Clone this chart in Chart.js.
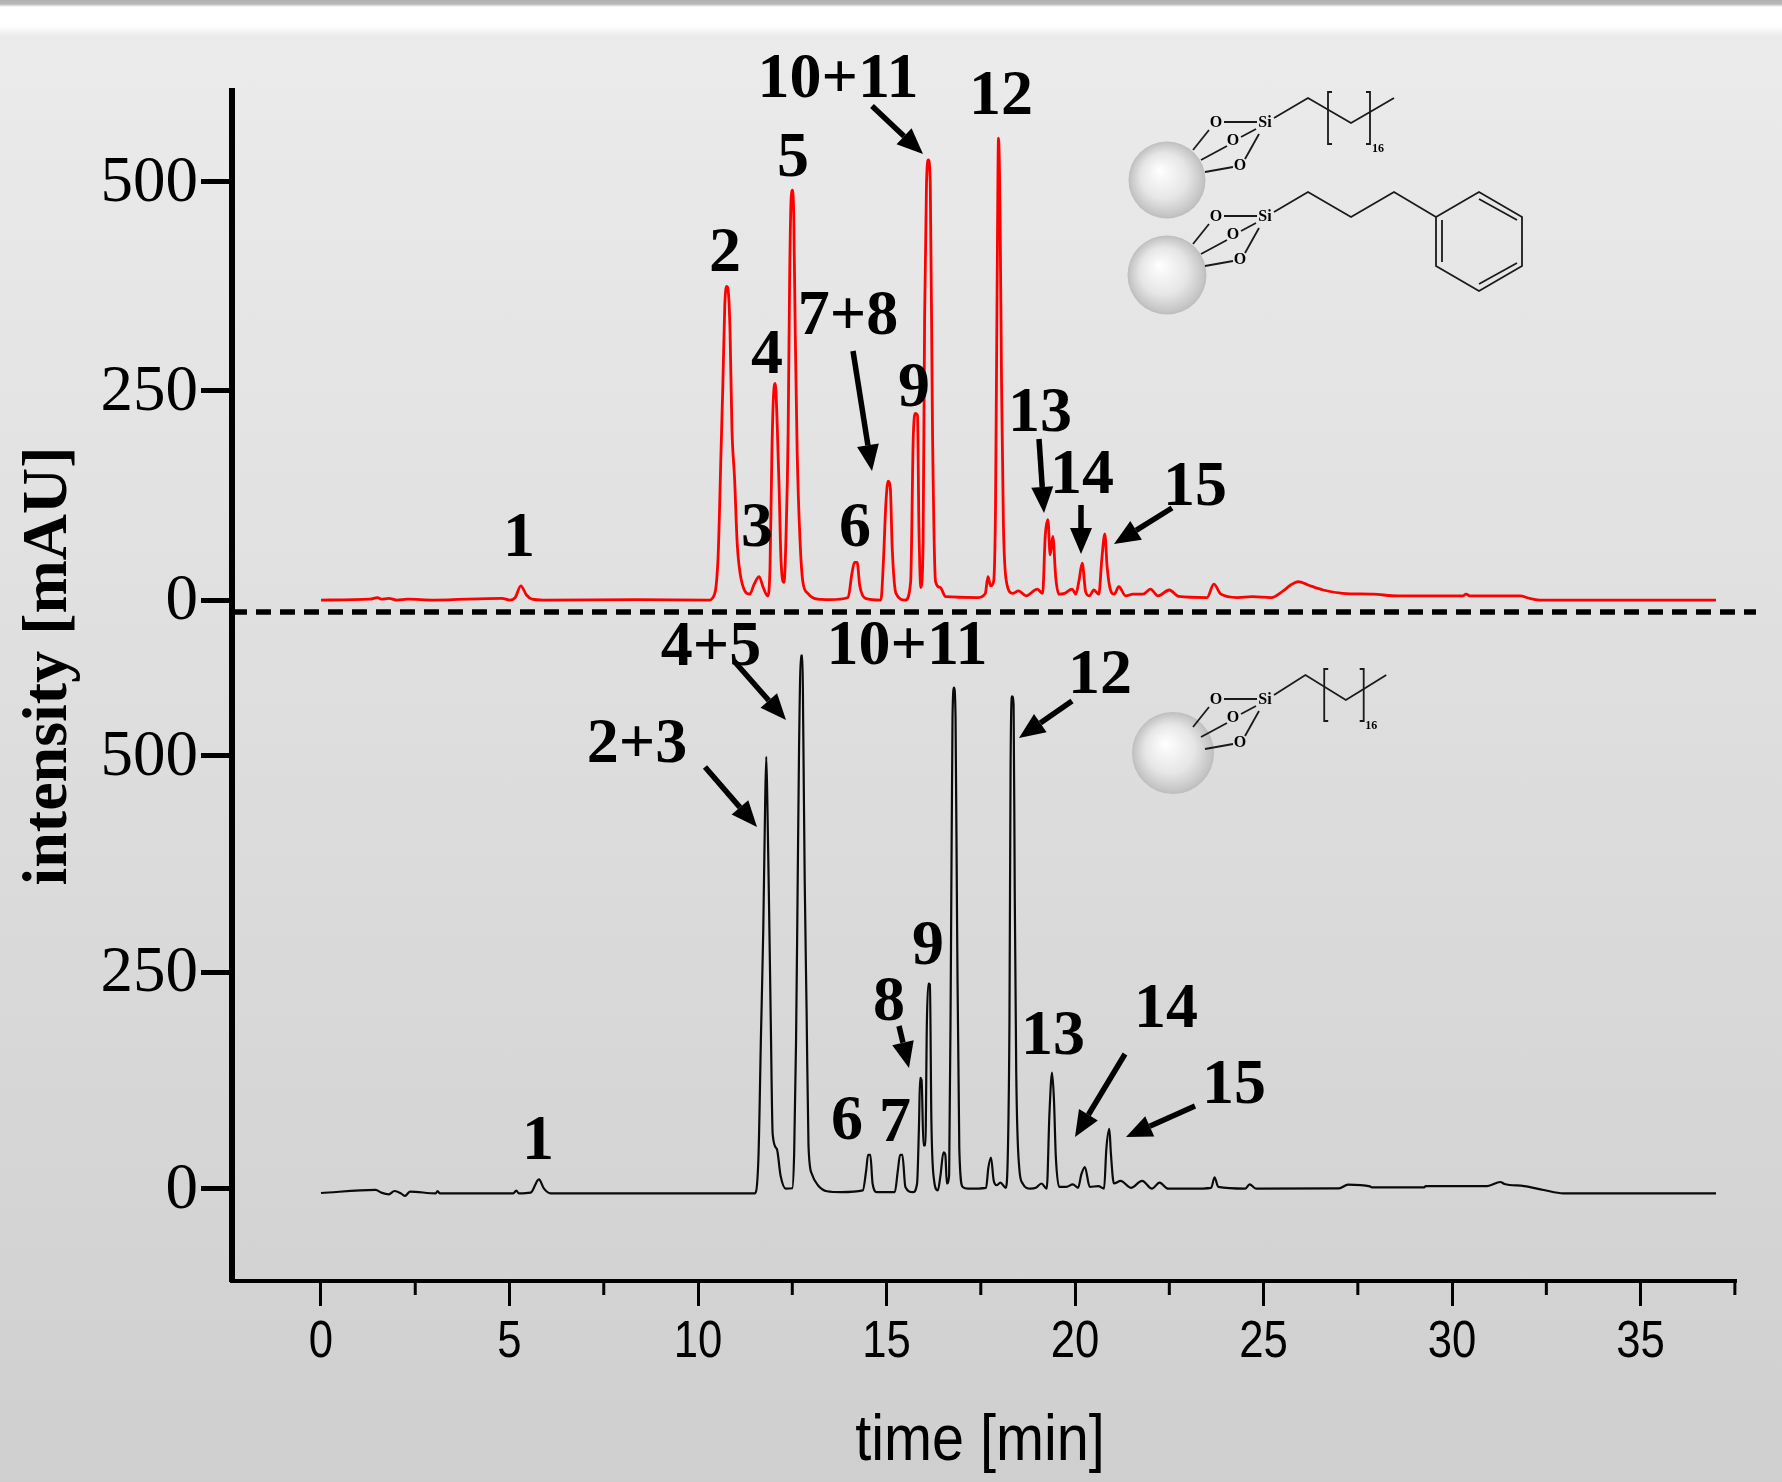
<!DOCTYPE html>
<html>
<head>
<meta charset="utf-8">
<title>chromatograms</title>
<script src="https://cdn.jsdelivr.net/npm/chart.js@4"></script>
<style>
html, body { margin: 0; padding: 0; }
body {
    width: 1782px; height: 1482px; overflow: hidden;
    background: linear-gradient(#b2b2b2 0, #b8b8b8 4px, #ffffff 7px, #ffffff 26px, #ebebeb 36px, #cfcfcf 100%);
}
canvas { display: block; }
</style>
</head>
<body>
<canvas id="chart" width="1782" height="1482"></canvas>
<script>
// values: time in min, intensity in mAU
var topTimes = [0, 1.3, 1.5, 1.6, 1.8, 2.0, 2.3, 3.0, 4.8, 5.0, 5.15, 5.3, 5.45, 5.6, 5.9, 8.4, 10.3, 10.38, 10.53, 10.61, 10.66, 10.71, 10.76, 10.81, 10.85, 10.9, 10.97, 11.04, 11.12, 11.24, 11.37, 11.49, 11.62, 11.73, 11.85, 11.91, 11.96, 12.0, 12.05, 12.1, 12.15, 12.2, 12.28, 12.34, 12.39, 12.43, 12.47, 12.51, 12.54, 12.58, 12.63, 12.7, 12.78, 12.91, 13.17, 13.5, 13.98, 14.08, 14.15, 14.22, 14.29, 14.44, 14.85, 14.92, 14.98, 15.04, 15.1, 15.15, 15.25, 15.5, 15.64, 15.71, 15.77, 15.82, 15.86, 15.91, 15.97, 16.01, 16.06, 16.11, 16.16, 16.22, 16.3, 16.42, 16.57, 17.43, 17.62, 17.69, 17.76, 17.84, 17.89, 17.93, 17.97, 18.01, 18.05, 18.1, 18.18, 18.35, 18.5, 18.7, 19.0, 19.14, 19.21, 19.28, 19.34, 19.41, 19.49, 19.57, 19.72, 19.92, 20.02, 20.1, 20.19, 20.28, 20.38, 20.5, 20.63, 20.71, 20.79, 20.85, 20.94, 21.04, 21.16, 21.34, 21.54, 21.8, 22.0, 22.2, 22.5, 22.75, 23.5, 23.68, 23.87, 24.3, 24.7, 25.2, 25.52, 25.72, 25.92, 26.18, 26.58, 27.1, 27.9, 28.56, 30.28, 30.37, 30.47, 31.8, 32.06, 32.39, 37.0];
var topValues = [0, 1, 3, 1, 2, 0, 1, 0, 2, 0, 3, 17, 6, 1, 0, 0.5, 0, 2, 49, 177, 260, 352, 375, 365, 320, 205, 145, 67, 31, 11, 7, 19, 28, 15, 5, 40, 177, 242, 259, 210, 136, 49, 21, 86, 200, 384, 480, 490, 457, 315, 177, 77, 22, 8, 1, 0.5, 3, 31, 45, 45, 17, 2, 0, 49, 113, 142, 134, 63, 8, 0, 22, 196, 223, 221, 86, 15, 70, 338, 498, 526, 498, 200, 22, 15, 4, 3, 8, 28, 17, 22, 109, 356, 552, 466, 260, 90, 22, 8, 11, 5, 13, 8, 77, 96, 54, 76, 26, 7, 8, 13, 7, 22, 44, 10, 5, 12, 7, 49, 79, 40, 12, 7, 16, 5, 7, 7, 13, 5, 12, 4.4, 3, 19, 7, 3, 4, 3, 11, 18, 22, 18, 12, 8, 7, 5, 5, 7, 5, 5, 2, 0, 0];

var bottomTimes = [0, 1.45, 1.6, 1.8, 1.95, 2.14, 2.23, 2.36, 3.05, 3.09, 3.15, 5.1, 5.18, 5.25, 5.56, 5.78, 5.91, 6.09, 11.5, 11.6, 11.67, 11.73, 11.78, 11.81, 11.84, 11.88, 11.93, 11.98, 12.09, 12.19, 12.33, 12.5, 12.55, 12.6, 12.64, 12.68, 12.73, 12.77, 12.79, 12.83, 12.88, 12.93, 13.02, 13.18, 13.42, 13.8, 14.37, 14.46, 14.51, 14.57, 14.63, 14.75, 15.22, 15.3, 15.36, 15.42, 15.5, 15.7, 15.81, 15.86, 15.89, 15.93, 15.98, 16.03, 16.07, 16.11, 16.15, 16.19, 16.26, 16.36, 16.43, 16.51, 16.56, 16.6, 16.66, 16.71, 16.75, 16.79, 16.83, 16.87, 16.93, 17.02, 17.16, 17.64, 17.7, 17.77, 17.84, 17.92, 18.02, 18.16, 18.22, 18.26, 18.29, 18.33, 18.37, 18.4, 18.44, 18.52, 18.61, 18.82, 18.96, 19.11, 19.25, 19.32, 19.39, 19.44, 19.49, 19.58, 19.77, 19.94, 20.08, 20.17, 20.26, 20.39, 20.62, 20.77, 20.83, 20.91, 20.95, 21.03, 21.21, 21.48, 21.78, 22.04, 22.24, 22.47, 23.09, 23.61, 23.7, 23.8, 24.51, 24.63, 24.8, 27.0, 27.24, 27.82, 27.87, 29.26, 29.3, 30.93, 31.28, 31.39, 31.91, 32.43, 32.95, 37.0];
var bottomValues = [-5, -1.5, -4.6, -6.5, -2.7, -6, -8.4, -3.4, -5.4, -2.7, -5.4, -5.4, -2.3, -5.4, -4.6, 10.8, 0.4, -5.4, -5.4, 32.5, 178, 298, 444, 499, 444, 338, 192, 63, 46, 15, 0, 0.5, 41, 170, 338, 510, 616, 616, 537, 355, 205, 50, 17, 4, -3, -4, -2, 21, 39, 39, 6, -4, -4, 21, 39, 39, 2, -4, 6, 72, 128, 125, 50, 50, 192, 237, 236, 77, 10, -2, 15, 42, 39, 6, 15, 280, 545, 579, 545, 311, 46, 2, 0, 1, 24, 36, 10, 4, 7, 1, 46, 192, 488, 569, 559, 346, 134, 24, 6, 0, 1, 6, 0, 86, 134, 103, 37, 2, 2, 5, 1, 17, 25, 2, 3, 0, 46, 69, 41, 6, 9, 1, 9, 0, 7, 0, 0, 1, 13, 2, 0, 5, 0, 0.4, 4.7, 2.7, 1.6, 1.6, 3, 3, 7.7, 5.4, 3, -1.5, -5.4, -5.4];

var xTickValues = [0, 5, 10, 15, 20, 25, 30, 35];
var xMinorValues = [2.5, 7.5, 12.5, 17.5, 22.5, 27.5, 32.5, 37.5];
var yTickValues = [0, 250, 500];

// peak labels, pixel centres on the picture
var peakLabels = [
    ["10+11", 838, 80], ["12", 1001, 97], ["5", 793, 159], ["2", 725, 254], ["4", 767, 356],
    ["7+8", 848, 317], ["9", 914, 389], ["13", 1040, 414], ["14", 1082, 476], ["15", 1195, 488],
    ["3", 757, 529], ["6", 855, 529], ["1", 519, 539],
    ["10+11", 907, 647], ["12", 1100, 676], ["4+5", 711, 648], ["2+3", 637, 745], ["9", 928, 947],
    ["8", 889, 1003], ["13", 1053, 1037], ["14", 1166, 1010], ["15", 1234, 1086],
    ["6", 847, 1122], ["7", 895, 1124], ["1", 538, 1142]
];
var arrows = [
    [872, 106, 923, 154], [853, 351, 872, 471], [1039, 439, 1044, 513], [1081, 505, 1081, 554], [1172, 508, 1114, 544],
    [734, 661, 786, 720], [705, 767, 757, 827], [1072, 701, 1019, 738], [899, 1026, 909, 1068],
    [1125, 1054, 1075, 1137], [1195, 1106, 1126, 1137]
];

function text(ctx, str, x, y, font) {
    ctx.font = font;
    ctx.textAlign = "center";
    ctx.textBaseline = "middle";
    ctx.fillStyle = "#000";
    ctx.fillText(str, x, y);
}

// the sans text in the picture is narrower than Liberation Sans
function narrowText(ctx, str, x, y, font, k) {
    ctx.save();
    ctx.translate(x, y);
    ctx.scale(k, 1);
    text(ctx, str, 0, 0, font);
    ctx.restore();
}

function drawArrow(ctx, a) {
    var ang = Math.atan2(a[3] - a[1], a[2] - a[0]);
    var len = 26, half = 11;
    var bx = a[2] - len * Math.cos(ang), by = a[3] - len * Math.sin(ang);
    ctx.strokeStyle = "#000";
    ctx.lineWidth = 5.5;
    ctx.beginPath();
    ctx.moveTo(a[0], a[1]);
    ctx.lineTo(bx, by);
    ctx.stroke();
    ctx.fillStyle = "#000";
    ctx.beginPath();
    ctx.moveTo(a[2], a[3]);
    ctx.lineTo(bx - half * Math.sin(ang), by + half * Math.cos(ang));
    ctx.lineTo(bx + half * Math.sin(ang), by - half * Math.cos(ang));
    ctx.closePath();
    ctx.fill();
}

function sphere(ctx, cx, cy, r) {
    var g = ctx.createRadialGradient(cx - 0.2 * r, cy - 0.25 * r, 0, cx, cy, r);
    g.addColorStop(0, "#ffffff");
    g.addColorStop(0.6, "#e6e6e6");
    g.addColorStop(0.93, "#c6c6c6");
    g.addColorStop(1, "#bcbcbc");
    ctx.fillStyle = g;
    ctx.beginPath();
    ctx.arc(cx, cy, r, 0, Math.PI * 2);
    ctx.fill();
}

function poly(ctx, pts) {
    ctx.beginPath();
    ctx.moveTo(pts[0], pts[1]);
    for (var i = 2; i < pts.length; i += 2) ctx.lineTo(pts[i], pts[i + 1]);
    ctx.stroke();
}

// silane head group, coordinates relative to the Si atom
function siHead(ctx, sx, sy) {
    ctx.save();
    ctx.translate(sx, sy);
    ctx.strokeStyle = "#1a1a1a";
    ctx.lineWidth = 1.8;
    poly(ctx, [-72, 27, -56, 7]);
    poly(ctx, [-64, 37, -38, 23]);
    poly(ctx, [-60, 49, -32, 44]);
    poly(ctx, [-41, -1, -8, -1]);
    poly(ctx, [-24, 14, -9, 6]);
    poly(ctx, [-20, 36, -6, 11]);
    var f = "bold 16px 'Liberation Serif'";
    text(ctx, "O", -49, 0, f);
    text(ctx, "O", -32, 18, f);
    text(ctx, "O", -25, 43, f);
    text(ctx, "Si", 0, 0, f);
    ctx.restore();
}

function alkylChain(ctx, sx, sy, k) {
    ctx.save();
    ctx.translate(sx, sy);
    ctx.strokeStyle = "#1a1a1a";
    ctx.lineWidth = 1.8;
    poly(ctx, [9, -5, 43 * k, -25, 86 * k, 0, 105 * k, -11, 129 * k, -25]);
    poly(ctx, [63 * k + 4, -31, 63 * k, -31, 63 * k, 21, 63 * k + 4, 21]);
    poly(ctx, [105 * k - 4, -31, 105 * k, -31, 105 * k, 21, 105 * k - 4, 21]);
    ctx.restore();
    text(ctx, "16", sx + 113 * k, sy + 26, "bold 12px 'Liberation Serif'");
}

function phenylChain(ctx, sx, sy) {
    ctx.save();
    ctx.translate(sx, sy);
    ctx.strokeStyle = "#1a1a1a";
    ctx.lineWidth = 1.8;
    poly(ctx, [9, -5, 43, -25, 86, 0, 129, -25, 171, 0]);
    poly(ctx, [171, 0, 214, -25, 257, 0, 257, 49, 214, 74, 171, 49, 171, 0]);
    poly(ctx, [177, 3, 177, 45]);
    poly(ctx, [214, -18, 252, 3]);
    poly(ctx, [214, 67, 252, 46]);
    ctx.restore();
}

// everything that is not a series or an axis: labels, arrows, dashes, sketches
var decorations = {
    id: "decorations",
    afterDraw: function (chart) {
        var ctx = chart.ctx;
        var x = chart.scales.x;

        ctx.save();
        // minor ticks of the time axis
        ctx.strokeStyle = "#000";
        ctx.lineWidth = 3;
        xMinorValues.forEach(function (v) {
            var px = x.getPixelForValue(v);
            ctx.beginPath();
            ctx.moveTo(px, x.top);
            ctx.lineTo(px, x.top + 14);
            ctx.stroke();
        });

        // time axis labels
        x.ticks.forEach(function (t) {
            narrowText(ctx, String(t.value), x.getPixelForValue(t.value), 1343, "52px 'Liberation Sans'", 0.84);
        });
        narrowText(ctx, "time [min]", 980, 1442, "64px 'Liberation Sans'", 0.9);

        // divider between the two chromatograms
        ctx.lineWidth = 5.5;
        ctx.setLineDash([15, 9]);
        ctx.beginPath();
        ctx.moveTo(232, 612);
        ctx.lineTo(1756, 612);
        ctx.stroke();
        ctx.setLineDash([]);

        peakLabels.forEach(function (l) {
            text(ctx, l[0], l[1], l[2], "bold 64px 'Liberation Serif'");
        });
        arrows.forEach(function (a) { drawArrow(ctx, a); });

        ctx.save();
        ctx.translate(49, 666);
        ctx.rotate(-Math.PI / 2);
        text(ctx, "intensity [mAU]", 0, 0, "bold 64px 'Liberation Serif'");
        ctx.restore();

        sphere(ctx, 1167, 180, 38.5);
        siHead(ctx, 1265, 123);
        alkylChain(ctx, 1265, 123, 1);
        sphere(ctx, 1167, 275, 39.5);
        siHead(ctx, 1265, 217);
        phenylChain(ctx, 1265, 217);
        sphere(ctx, 1173, 753, 41);
        siHead(ctx, 1265, 700);
        alkylChain(ctx, 1265, 700, 0.94);
        ctx.restore();
    }
};

function toPoints(xs, ys) {
    return xs.map(function (t, i) { return { x: t, y: ys[i] }; });
}

function yAxis(min, max, weight, order) {
    return {
        type: "linear",
        position: "left",
        stack: "intensity",
        stackWeight: weight,
        weight: order,
        min: min,
        max: max,
        afterBuildTicks: function (s) {
            s.ticks = yTickValues.map(function (v) { return { value: v }; });
        },
        afterFit: function (s) { s.width = 232; },
        border: { display: true, color: "#000", width: 6 },
        grid: { drawOnChartArea: false, color: "#000", tickColor: "#000", tickLength: 31, tickWidth: 5 },
        ticks: {
            color: "#000",
            padding: 3,
            labelOffset: 2,
            autoSkip: false,
            maxRotation: 0,
            font: { family: "'Liberation Serif'", size: 65 },
            callback: function (v) { return String(v); }
        }
    };
}

new Chart(document.getElementById("chart").getContext("2d"), {
    type: "line",
    data: {
        datasets: [
            { label: "C18 + phenylpropyl", data: toPoints(topTimes, topValues), yAxisID: "y", borderColor: "#ff0000", borderWidth: 2.8, pointRadius: 0, cubicInterpolationMode: "monotone", clip: false },
            { label: "C18", data: toPoints(bottomTimes, bottomValues), yAxisID: "y2", borderColor: "#0a0a0a", borderWidth: 2.2, pointRadius: 0, cubicInterpolationMode: "monotone", clip: false }
        ]
    },
    options: {
        responsive: false,
        animation: false,
        layout: { padding: { top: 91, right: 46, left: 0, bottom: 0 } },
        plugins: { legend: { display: false }, tooltip: { enabled: false } },
        scales: {
            x: {
                type: "linear",
                min: -2.36,
                max: 37.53,
                afterBuildTicks: function (s) {
                    s.ticks = xTickValues.map(function (v) { return { value: v }; });
                },
                afterFit: function (s) { s.height = 201; },
                border: { display: true, color: "#000", width: 4 },
                grid: { drawOnChartArea: false, color: "#000", tickColor: "#000", tickLength: 25, tickWidth: 3 },
                ticks: { display: false, autoSkip: false, maxRotation: 0 }
            },
            y: yAxis(-14.3, 608.4, 521, 2),
            y2: yAxis(-106.7, 666.4, 669, 1)
        }
    },
    plugins: [decorations]
});
</script>
</body>
</html>
